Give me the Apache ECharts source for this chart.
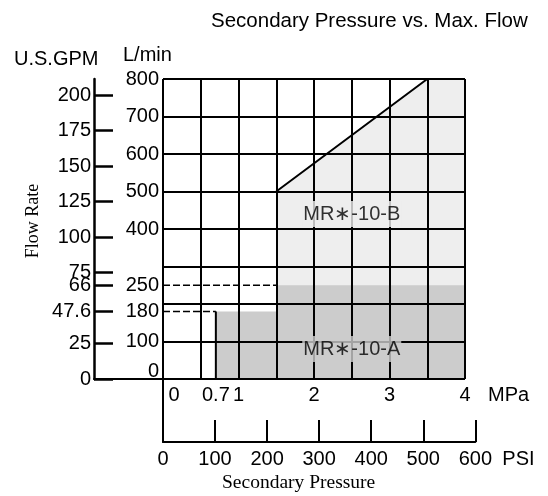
<!DOCTYPE html>
<html><head><meta charset="utf-8">
<script src="https://cdn.jsdelivr.net/npm/echarts@6/dist/echarts.min.js"></script>
<style>html,body{margin:0;padding:0;background:#fff}#c{width:548px;height:496px}</style>
</head><body><div id="c"></div>
<script>
// ---- data ----
const mpaLabels = [0, 0.7, 1, 2, 3, 4];
const lpmLabels = [0, 100, 180, 250, 400, 500, 600, 700, 800];
const gpmLabels = [0, 25, 47.6, 66, 75, 100, 125, 150, 175, 200];
const psiLabels = [0, 100, 200, 300, 400, 500, 600];
const regionA = [[0.7, 0], [0.7, 180], [1.5, 180], [1.5, 250], [4, 250]];
const regionAEdge = [[0.7, 0], [0.7, 180]];
const regionB = [[1.5, 500], [3.5, 800], [4, 800]];
const dash250 = [[0, 250], [1.5, 250]];
const dash180 = [[0, 180], [0.7, 180]];
const modelNames = ['MR\u2217-10-B', 'MR\u2217-10-A'];
const modelLabelAt = [[2.5, 440], [2.5, 80]];
const LPM_PER_GPM = 3.785411784;
const PSI_PER_MPA = 145.0377;
const MPA_MAX = 4, LPM_MAX = 800, PSI_MAX = 600;

// ---- styles ----
const FONT = 'Liberation Sans, Arial, sans-serif';
const SERIF = 'Liberation Serif, Times New Roman, serif';
const FILL_A = '#cccccc', FILL_B = '#eeeeee';
const fills = [FILL_B, FILL_A];
const lbl = {color: '#000', fontFamily: FONT, fontSize: 20};

const G0 = {left: 163, top: 79, width: 302, height: 300};
const psiWidth = G0.width / MPA_MAX * (PSI_MAX / PSI_PER_MPA);

const chart = echarts.init(document.getElementById('c'), null, {renderer: 'canvas'});
chart.setOption({
  animation: false,
  backgroundColor: '#fff',
  title: [
    {text: 'Secondary Pressure vs. Max. Flow', left: 211, top: 11, padding: 0,
     textStyle: {fontFamily: FONT, fontSize: 20.5, fontWeight: 'normal', color: '#000'}},
    {text: 'U.S.GPM', left: 14, top: 49, padding: 0,
     textStyle: {fontFamily: FONT, fontSize: 20, fontWeight: 'normal', color: '#000'}},
    {text: 'L/min', left: 123, top: 45, padding: 0,
     textStyle: {fontFamily: FONT, fontSize: 20, fontWeight: 'normal', color: '#000'}},
    {text: 'Secondary Pressure', left: 222, top: 473, padding: 0,
     textStyle: {fontFamily: SERIF, fontSize: 19.5, fontWeight: 'normal', color: '#000'}}
  ],
  graphic: [
    {type: 'text', x: 33, y: 221, rotation: Math.PI / 2,
     style: {text: 'Flow Rate', font: '18px ' + SERIF, fill: '#000', align: 'center', verticalAlign: 'middle'}}
  ],
  grid: [
    {left: G0.left, top: G0.top, width: G0.width, height: G0.height},
    {left: 94, top: G0.top, width: G0.left - 94, height: G0.height},
    {left: G0.left, top: G0.top + G0.height, width: psiWidth, height: 63}
  ],
  xAxis: [
    {gridIndex: 0, type: 'value', min: 0, max: MPA_MAX, interval: 0.5, z: 3,
     axisLine: {show: false}, axisTick: {show: false},
     splitLine: {show: true, lineStyle: {color: '#000', width: 2}},
     axisLabel: Object.assign({}, lbl, {margin: 6, customValues: mpaLabels,
       formatter: v => v === 0 ? '{z|0}' : String(v),
       rich: {z: Object.assign({}, lbl, {padding: [0, 0, 0, 22]})}}),
     name: 'MPa', nameLocation: 'end', nameGap: 23,
     nameTextStyle: Object.assign({}, lbl, {verticalAlign: 'top', padding: [6, 0, 0, 0]})},
    {gridIndex: 1, type: 'value', min: 0, max: 1, show: true,
     axisLine: {show: true, onZero: false, lineStyle: {color: '#000', width: 2}},
     axisTick: {show: false}, axisLabel: {show: false}, splitLine: {show: false}},
    {gridIndex: 2, type: 'value', min: 0, max: PSI_MAX, interval: 100, position: 'bottom',
     axisLine: {show: true, onZero: false, lineStyle: {color: '#000', width: 2}},
     axisTick: {show: true, inside: true, length: 22, lineStyle: {color: '#000', width: 2}, customValues: psiLabels},
     axisLabel: Object.assign({}, lbl, {margin: 7, customValues: psiLabels}),
     splitLine: {show: false},
     name: 'PSI', nameLocation: 'end', nameGap: 27,
     nameTextStyle: Object.assign({}, lbl, {verticalAlign: 'top', padding: [7, 0, 0, 0]})}
  ],
  yAxis: [
    {gridIndex: 0, type: 'value', min: 0, max: LPM_MAX, interval: 100, z: 3,
     axisLine: {show: false}, axisTick: {show: false},
     splitLine: {show: true, lineStyle: {color: '#000', width: 2}},
     axisLabel: Object.assign({}, lbl, {margin: 4, customValues: lpmLabels,
       formatter: v => v === 0 ? '{b|0}' : String(v),
       rich: {b: Object.assign({}, lbl, {padding: [0, 0, 16, 0]})}})},
    {gridIndex: 1, type: 'value', min: 0, max: LPM_MAX / LPM_PER_GPM, position: 'left',
     axisLine: {show: true, onZero: false, lineStyle: {color: '#000', width: 2.5}},
     axisTick: {show: true, inside: true, length: 19, lineStyle: {color: '#000', width: 2.5}, customValues: gpmLabels},
     axisLabel: Object.assign({}, lbl, {margin: 3, customValues: gpmLabels, formatter: v => String(v)}),
     splitLine: {show: false}},
    {gridIndex: 2, type: 'value', min: 0, max: 1,
     axisLine: {show: true, onZero: false, lineStyle: {color: '#000', width: 2}},
     axisTick: {show: false}, axisLabel: {show: false}, splitLine: {show: false}}
  ],
  series: [
    {type: 'line', xAxisIndex: 0, yAxisIndex: 0, z: 1, data: regionB, showSymbol: false, symbol: 'none',
     lineStyle: {color: '#000', width: 2}, areaStyle: {color: FILL_B, opacity: 1}},
    {type: 'line', xAxisIndex: 0, yAxisIndex: 0, z: 1, data: regionA, showSymbol: false, symbol: 'none',
     lineStyle: {width: 0, opacity: 0}, areaStyle: {color: FILL_A, opacity: 1}},
    {type: 'line', xAxisIndex: 0, yAxisIndex: 0, z: 4, data: regionAEdge, showSymbol: false, symbol: 'none',
     lineStyle: {color: '#000', width: 2}},
    {type: 'line', xAxisIndex: 0, yAxisIndex: 0, z: 4, data: dash250, showSymbol: false, symbol: 'none',
     lineStyle: {color: '#000', width: 1.5, type: [7, 3]}},
    {type: 'line', xAxisIndex: 0, yAxisIndex: 0, z: 4, data: dash180, showSymbol: false, symbol: 'none',
     lineStyle: {color: '#000', width: 1.5, type: [7, 3]}},
    {type: 'scatter', xAxisIndex: 0, yAxisIndex: 0, z: 6, symbolSize: 0, silent: true,
     itemStyle: {color: 'rgba(0,0,0,0)'},
     data: modelLabelAt.map((p, i) => ({value: p, label: {backgroundColor: fills[i]}})),
     label: Object.assign({}, lbl, {show: true, position: 'inside', padding: [3, 1],
       formatter: p => modelNames[p.dataIndex]})}
  ]
});
</script>
</body></html>
